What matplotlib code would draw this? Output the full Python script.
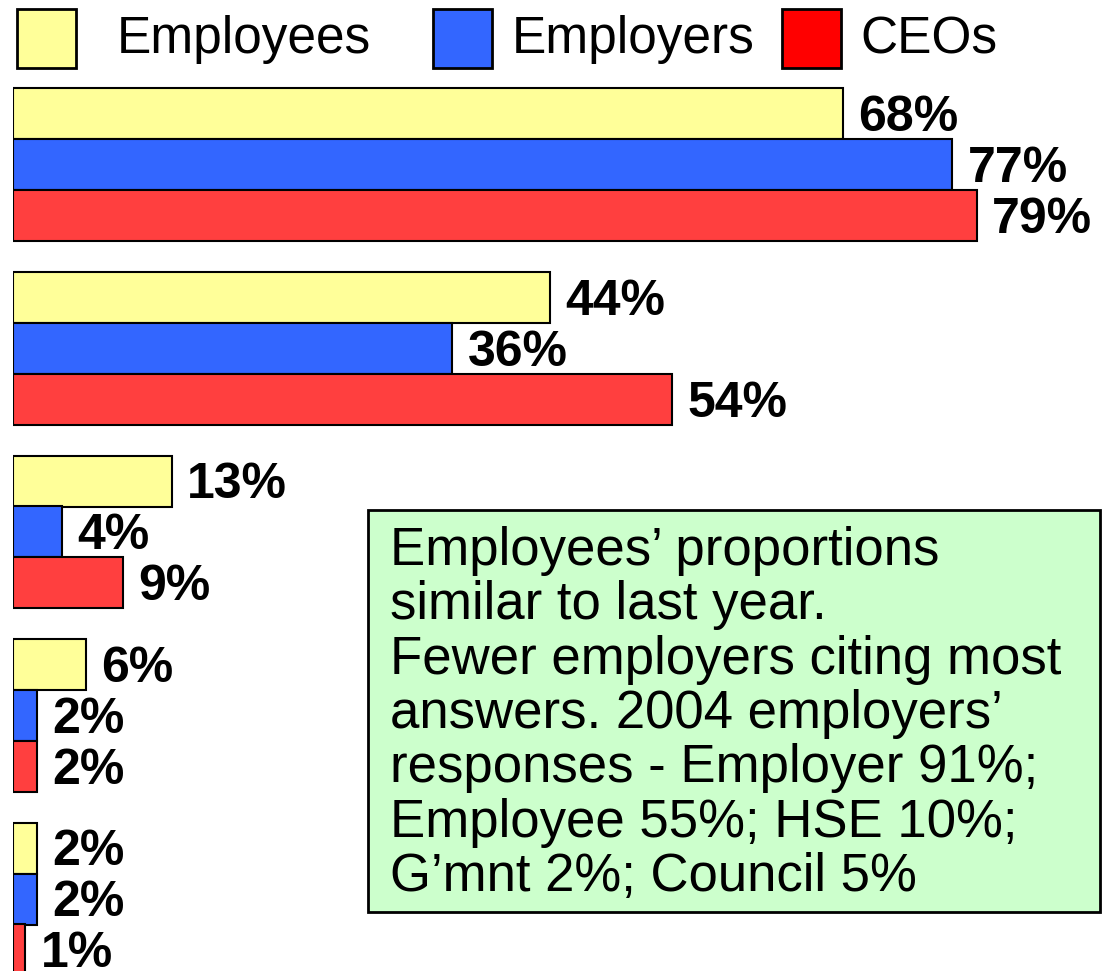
import numpy as np
import matplotlib
matplotlib.use('Agg')
import matplotlib.pyplot as plt
from matplotlib.patches import Rectangle

plt.rcParams['font.family'] = ['Liberation Sans', 'DejaVu Sans']

# data
series = ['Employees', 'Employers', 'CEOs']
employees = [68, 44, 13, 6, 2]
employers = [77, 36, 4, 2, 2]
ceos = [79, 54, 9, 2, 1]
bar_colors = ['#FFFF99', '#3366FF', '#FF3F3F']
legend_colors = ['#FFFF99', '#3366FF', '#FF0000']

note_lines = [
    'Employees\u2019 proportions',
    'similar to last year.',
    'Fewer employers citing most',
    'answers. 2004 employers\u2019',
    'responses - Employer 91%;',
    'Employee 55%; HSE 10%;',
    'G\u2019mnt 2%; Council 5%',
]

W, H = 1108, 971
fig = plt.figure(figsize=(W / 100, H / 100), dpi=100)
ax = fig.add_axes([13 / W, 0, 1 - 13 / W, 1])
ax.set_axis_off()

# one bar = 1 unit = 51 px, groups every 183.5 px
pitch = 183.5 / 51
n_groups = len(employees)
for j, vals in enumerate([employees, employers, ceos]):
    ys = np.arange(n_groups) * pitch + j
    ax.barh(ys, vals, height=1.0, color=bar_colors[j],
            edgecolor='black', linewidth=1.5)
    for y, v in zip(ys, vals):
        ax.annotate(f'{v}%', (v, y), xytext=(11, -12.5), textcoords='offset points',
                    ha='left', va='baseline', fontsize=36, fontweight='bold')

ax.set_xlim(0, (W - 13) / 12.2)
ax.set_ylim((H - 114) / 51, -114 / 51)


def px_rect(x0, y0, x1, y1, **kw):
    r = Rectangle((x0 / W, 1 - y1 / H), (x1 - x0) / W, (y1 - y0) / H,
                  transform=fig.transFigure, **kw)
    fig.add_artist(r)


# legend
leg_boxes = [17, 433, 782]
leg_text_x = [117, 512, 860]
for name, c, bx, tx in zip(series, legend_colors, leg_boxes, leg_text_x):
    px_rect(bx, 9, bx + 59, 68, facecolor=c, edgecolor='black', linewidth=2)
    fig.text(tx / W, 1 - 53 / H, name, fontsize=37, va='baseline', ha='left')

# note box
px_rect(368, 510, 1100, 912, facecolor='#CCFFCC', edgecolor='black', linewidth=2)
for i, line in enumerate(note_lines):
    fig.text(390 / W, 1 - (565 + i * 54.3) / H, line, fontsize=38,
             va='baseline', ha='left')

fig.savefig('out.png', dpi=100)
